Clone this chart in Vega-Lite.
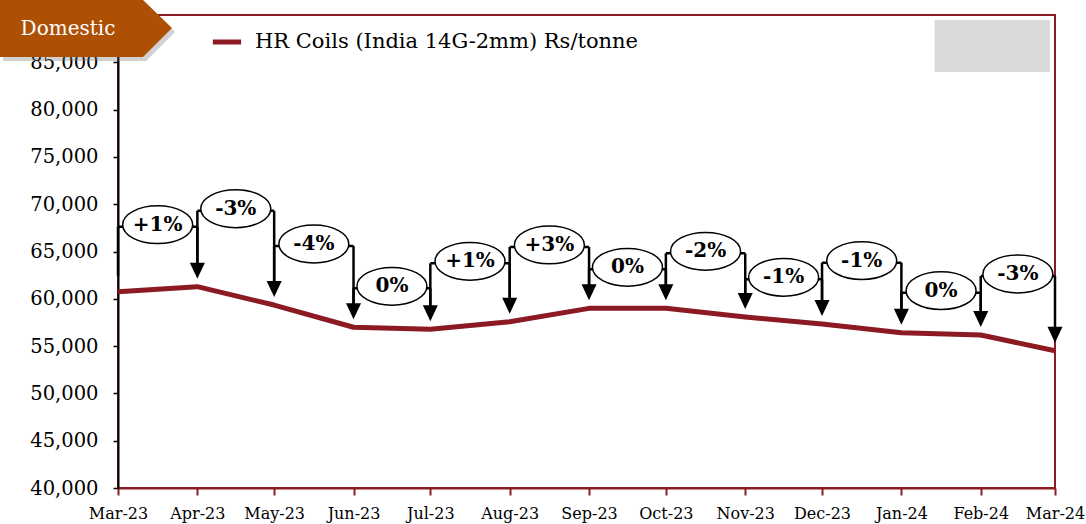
{
  "$schema": "https://vega.github.io/schema/vega-lite/v6.json",
  "width": 937,
  "height": 473,
  "autosize": {"type": "none"},
  "padding": {"left": 118, "top": 15, "right": 31, "bottom": 36},
  "background": "white",
  "config": {"view": {"stroke": "#8B1A22", "strokeWidth": 2}, "font": "DejaVu Serif"},
  "resolve": {"axis": {"x": "independent", "y": "independent"}},
  "datasets": {
    "prices": [
      {"date": "2023-03-01", "price": 60750},
      {"date": "2023-04-01", "price": 61280},
      {"date": "2023-05-01", "price": 59340},
      {"date": "2023-06-01", "price": 56990},
      {"date": "2023-07-01", "price": 56770},
      {"date": "2023-08-01", "price": 57580},
      {"date": "2023-09-01", "price": 58990},
      {"date": "2023-10-01", "price": 58990},
      {"date": "2023-11-01", "price": 58080},
      {"date": "2023-12-01", "price": 57340},
      {"date": "2024-01-01", "price": 56420},
      {"date": "2024-02-01", "price": 56170},
      {"date": "2024-03-01", "price": 54510}
    ],
    "changes": [
      {"from": "2023-03-01", "to": "2023-04-01", "top": 67620, "startPrice": 60750, "endPrice": 61280, "label": "+1%"},
      {"from": "2023-04-01", "to": "2023-05-01", "top": 69310, "startPrice": 61280, "endPrice": 59340, "label": "-3%"},
      {"from": "2023-05-01", "to": "2023-06-01", "top": 65580, "startPrice": 59340, "endPrice": 56990, "label": "-4%"},
      {"from": "2023-06-01", "to": "2023-07-01", "top": 61110, "startPrice": 56990, "endPrice": 56770, "label": "0%"},
      {"from": "2023-07-01", "to": "2023-08-01", "top": 63750, "startPrice": 56770, "endPrice": 57580, "label": "+1%"},
      {"from": "2023-08-01", "to": "2023-09-01", "top": 65480, "startPrice": 57580, "endPrice": 58990, "label": "+3%"},
      {"from": "2023-09-01", "to": "2023-10-01", "top": 63120, "startPrice": 58990, "endPrice": 58990, "label": "0%"},
      {"from": "2023-10-01", "to": "2023-11-01", "top": 64810, "startPrice": 58990, "endPrice": 58080, "label": "-2%"},
      {"from": "2023-11-01", "to": "2023-12-01", "top": 62060, "startPrice": 58080, "endPrice": 57340, "label": "-1%"},
      {"from": "2023-12-01", "to": "2024-01-01", "top": 63820, "startPrice": 57340, "endPrice": 56420, "label": "-1%"},
      {"from": "2024-01-01", "to": "2024-02-01", "top": 60650, "startPrice": 56420, "endPrice": 56170, "label": "0%"},
      {"from": "2024-02-01", "to": "2024-03-01", "top": 62410, "startPrice": 56170, "endPrice": 54510, "label": "-3%"}
    ]
  },
  "layer": [
    {
      "data": {"name": "prices"},
      "mark": {"type": "line", "strokeWidth": 5, "strokeJoin": "round"},
      "encoding": {
        "x": {
          "field": "date", "type": "temporal", "title": null,
          "scale": {"type": "utc", "domain": [{"year": 2023, "month": 3, "date": 1, "utc": true}, {"year": 2024, "month": 3, "date": 1, "utc": true}], "nice": false, "padding": 0},
          "axis": {"labelExpr": "utcFormat(datum.value, '%b-%y')", "tickCount": {"interval": "month", "step": 1}, "labelFontSize": 16, "labelFont": "DejaVu Serif", "labelColor": "black", "domainColor": "#8B1A22", "domainWidth": 2, "tickColor": "#8B1A22", "tickWidth": 2, "tickSize": 7, "labelPadding": 10, "grid": false, "labelFlush": false, "labelOverlap": false, "title": null}
        },
        "y": {
          "field": "price", "type": "quantitative", "title": null,
          "scale": {"domain": [40000, 90000], "nice": false, "zero": false},
          "axis": {"values": [40000, 45000, 50000, 55000, 60000, 65000, 70000, 75000, 80000, 85000], "labelExpr": "format(datum.value, ',.0f')", "labelFontSize": 19.5, "labelFont": "DejaVu Serif", "labelColor": "black", "domainColor": "black", "domainWidth": 2, "tickColor": "black", "tickSize": 5, "tickWidth": 1.5, "labelPadding": 15, "grid": false, "title": null}
        },
        "color": {
          "datum": "HR Coils (India 14G-2mm) Rs/tonne",
          "scale": {"range": ["#8B1A22"]},
          "legend": {"orient": "none", "legendX": 92, "legendY": 10, "title": null, "symbolType": "stroke", "symbolStrokeWidth": 5, "symbolSize": 800, "labelFontSize": 21, "labelFont": "DejaVu Serif", "labelColor": "black", "labelOffset": 11, "labelLimit": 600, "padding": 0}
        }
      }
    },
    {
      "data": {"values": [{}]},
      "mark": {"type": "rect", "color": "#D9D9D9"},
      "encoding": {
        "x": {"datum": {"year": 2024, "month": 1, "date": 14, "utc": true}, "type": "temporal", "axis": null},
        "x2": {"datum": {"year": 2024, "month": 2, "date": 28, "utc": true}},
        "y": {"datum": 89470, "type": "quantitative", "axis": null},
        "y2": {"datum": 83980}
      }
    },
    {
      "data": {"name": "changes"},
      "mark": {"type": "rule", "color": "black", "strokeWidth": 2.5, "y2Offset": -16},
      "encoding": {
        "x": {"field": "from", "type": "temporal", "axis": null},
        "y": {"field": "top", "type": "quantitative", "axis": null},
        "y2": {"field": "startPrice"}
      }
    },
    {
      "data": {"name": "changes"},
      "mark": {"type": "rule", "color": "black", "strokeWidth": 2.5, "y2Offset": -16},
      "encoding": {
        "x": {"field": "to", "type": "temporal", "axis": null},
        "y": {"field": "top", "type": "quantitative", "axis": null},
        "y2": {"field": "endPrice"}
      }
    },
    {
      "data": {"name": "changes"},
      "mark": {"type": "rule", "color": "black", "strokeWidth": 2.5},
      "encoding": {
        "x": {"field": "from", "type": "temporal", "axis": null},
        "x2": {"field": "to"},
        "y": {"field": "top", "type": "quantitative", "axis": null}
      }
    },
    {
      "data": {"name": "changes"},
      "mark": {"type": "point", "shape": "M-0.94,-1L0.94,-1L0,1Z", "size": 256, "filled": true, "color": "black", "opacity": 1, "yOffset": -16},
      "encoding": {
        "x": {"field": "to", "type": "temporal", "axis": null},
        "y": {"field": "endPrice", "type": "quantitative", "axis": null}
      }
    },
    {
      "data": {"name": "changes"},
      "mark": {"type": "point", "shape": "M-1,0C-1,-0.298,-0.5523,-0.54,0,-0.54C0.5523,-0.54,1,-0.298,1,0C1,0.298,0.5523,0.54,0,0.54C-0.5523,0.54,-1,0.298,-1,0Z", "size": 4900, "filled": true, "fill": "white", "stroke": "black", "strokeWidth": 1.5, "opacity": 1, "yOffset": -2},
      "encoding": {
        "x": {"field": "from", "timeUnit": "utcyearmonth", "type": "temporal", "bandPosition": 0.5, "axis": null},
        "y": {"field": "top", "type": "quantitative", "axis": null}
      }
    },
    {
      "data": {"name": "changes"},
      "mark": {"type": "text", "fontWeight": "bold", "fontSize": 20, "font": "DejaVu Serif", "color": "black", "yOffset": -2, "baseline": "middle", "align": "center"},
      "encoding": {
        "x": {"field": "from", "timeUnit": "utcyearmonth", "type": "temporal", "bandPosition": 0.5, "axis": null},
        "y": {"field": "top", "type": "quantitative", "axis": null},
        "text": {"field": "label"}
      }
    },
    {
      "data": {"values": [{}]},
      "mark": {"type": "point", "shape": "M-118,-15L25,-15L54,13L25,42L-118,42Z", "size": 4, "filled": true, "color": "#7a7a7a", "opacity": 0.35, "xOffset": 3, "yOffset": 4},
      "encoding": {
        "x": {"datum": {"year": 2023, "month": 3, "date": 1, "utc": true}, "type": "temporal", "axis": null},
        "y": {"datum": 90000, "type": "quantitative", "axis": null}
      }
    },
    {
      "data": {"values": [{}]},
      "mark": {"type": "point", "shape": "M-118,-15L25,-15L54,13L25,42L-118,42Z", "size": 4, "filled": true, "color": "#AD5003", "opacity": 1},
      "encoding": {
        "x": {"datum": {"year": 2023, "month": 3, "date": 1, "utc": true}, "type": "temporal", "axis": null},
        "y": {"datum": 90000, "type": "quantitative", "axis": null}
      }
    },
    {
      "data": {"values": [{"tag": "Domestic"}]},
      "mark": {"type": "text", "fontSize": 20, "font": "DejaVu Serif", "color": "white", "align": "center", "baseline": "middle", "xOffset": -50, "yOffset": 14},
      "encoding": {
        "x": {"datum": {"year": 2023, "month": 3, "date": 1, "utc": true}, "type": "temporal", "axis": null},
        "y": {"datum": 90000, "type": "quantitative", "axis": null},
        "text": {"field": "tag"}
      }
    }
  ]
}
